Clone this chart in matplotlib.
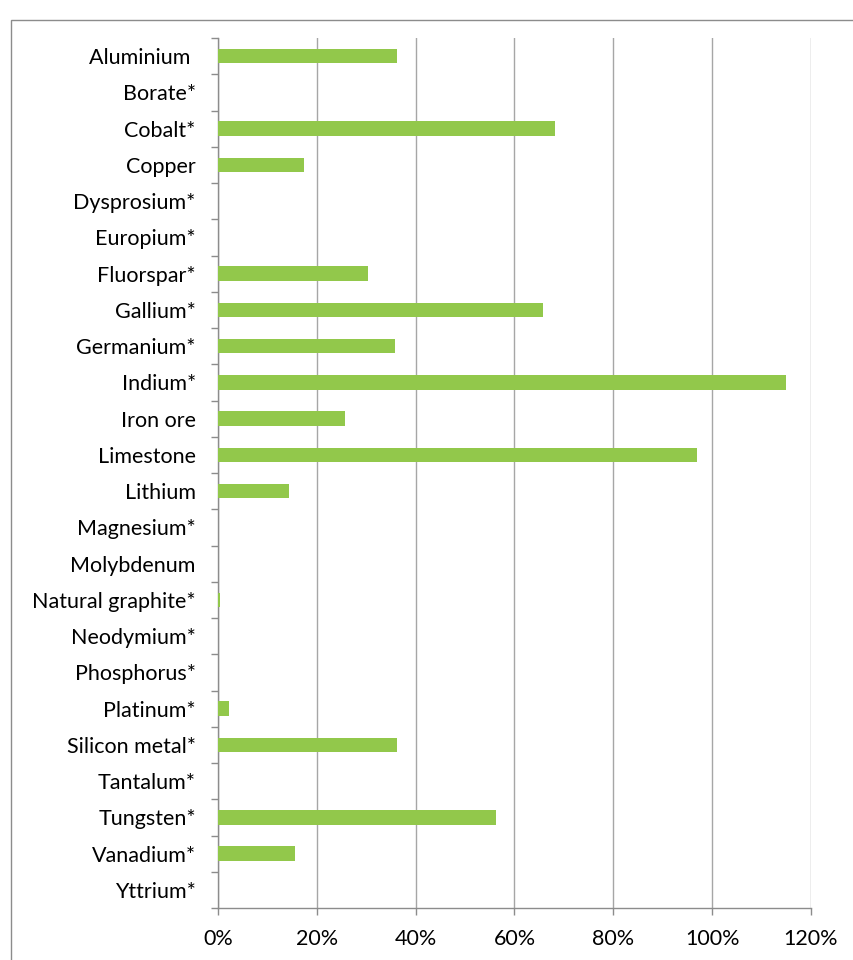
import matplotlib
matplotlib.use("Agg")
import matplotlib.pyplot as plt
from matplotlib.patches import Rectangle
from matplotlib.ticker import FixedLocator

plt.rcParams['font.family'] = ['Lato', 'DejaVu Sans']

categories = ["Aluminium ", "Borate*", "Cobalt*", "Copper", "Dysprosium*", "Europium*",
              "Fluorspar*", "Gallium*", "Germanium*", "Indium*", "Iron ore", "Limestone",
              "Lithium", "Magnesium*", "Molybdenum", "Natural graphite*", "Neodymium*",
              "Phosphorus*", "Platinum*", "Silicon metal*", "Tantalum*", "Tungsten*",
              "Vanadium*", "Yttrium*"]
values = [36.3, 0, 68.2, 17.5, 0, 0,
          30.3, 65.8, 35.8, 115.0, 25.7, 97.0,
          14.4, 0, 0, 0.5, 0,
          0, 2.2, 36.3, 0, 56.3,
          15.6, 0]
xticks = [0, 20, 40, 60, 80, 100, 120]

W, H = 854, 960
fig = plt.figure(figsize=(W / 100, H / 100), dpi=100)
ax = fig.add_axes([218 / W, 1 - 908 / H, (811 - 218) / W, (908 - 38) / H])

n = len(categories)
ypos = list(range(n))
ax.barh(ypos, values, height=0.4, color="#92C84B", zorder=3)
ax.set_ylim(n - 0.5, -0.5)
ax.set_xlim(0, 120)

ax.set_yticks(ypos)
ax.set_yticklabels(categories)
ax.yaxis.set_minor_locator(FixedLocator([i - 0.5 for i in range(n + 1)]))
ax.tick_params(axis='y', which='major', length=0, pad=16, labelsize=15.5, labelcolor="#000000")
ax.tick_params(axis='y', which='minor', length=5, color="#8c8c8c", width=1)

ax.set_xticks(xticks)
ax.set_xticklabels([f"{v}%" for v in xticks])
ax.tick_params(axis='x', length=5, color="#8c8c8c", width=1, pad=10, labelsize=15.5)

ax.grid(axis='x', color="#a6a6a6", linewidth=1, zorder=0)
for s in ['top', 'right']:
    ax.spines[s].set_visible(False)
for s in ['left', 'bottom']:
    ax.spines[s].set_color("#8c8c8c")
    ax.spines[s].set_linewidth(1)

fig.patches.append(Rectangle((11 / W, -0.1), 1.2, 1 - 20 / H + 0.1, transform=fig.transFigure,
                             fill=False, edgecolor="#8c8c8c", linewidth=1))

fig.savefig("out.png", dpi=100)
